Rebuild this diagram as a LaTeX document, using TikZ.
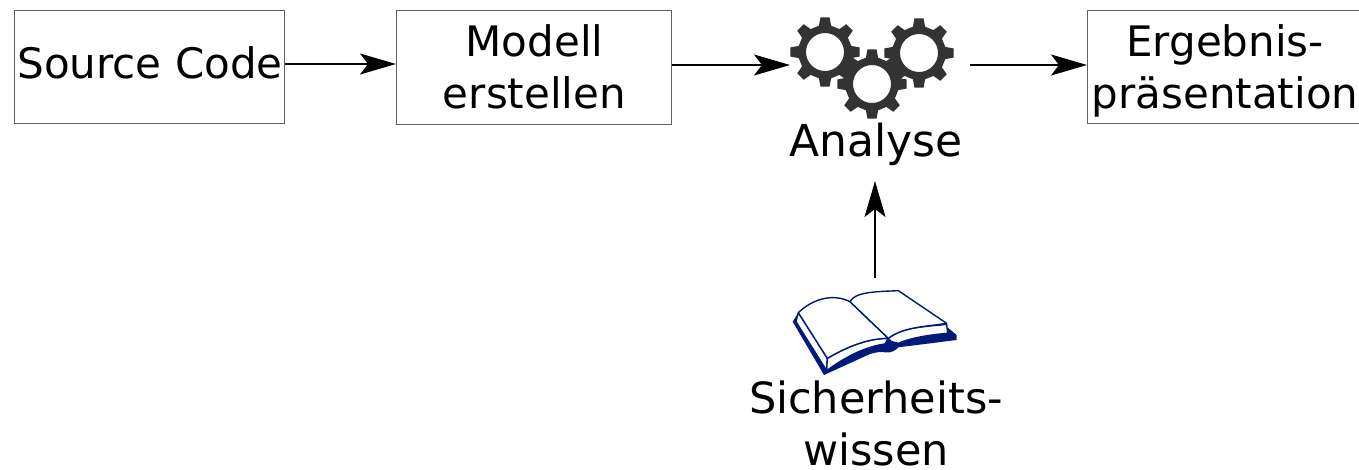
\documentclass[tikz,border=0pt]{standalone}
\usepackage{fontspec}
\setmainfont{DejaVu Sans}
\usetikzlibrary{arrows.meta}
\definecolor{gearcol}{HTML}{333333}
\definecolor{navybook}{HTML}{001A7A}
\definecolor{boxline}{HTML}{606060}
\tikzset{
  box/.style={draw=boxline,line width=1pt,fill=white,inner sep=0pt,anchor=north west},
  lbl/.style={inner sep=0pt,align=center,font=\fontsize{42}{52}\selectfont,anchor=base},
  conn/.style={line width=1.5pt,-{Stealth[length=36pt,width=21pt,inset=8pt]}},
  gearfill/.style={fill=gearcol,even odd rule},
  pageline/.style={draw=navybook,line width=1.4pt,fill=white,line join=round},
}
\newcommand{\gearat}[2]{%
  \begin{scope}[shift={(#1,#2)}]
    \fill[gearfill] (-13:27)
      foreach \a in {0,45,...,315} {
        -- ({\a-13}:27) -- ({\a-7.5}:35) -- ({\a+7.5}:35) -- ({\a+13}:27)
      } -- cycle
      (0,0) circle (19);
  \end{scope}}
\begin{document}
\begin{tikzpicture}[x=1pt,y=-1pt]
\useasboundingbox (0,0) rectangle (1359,469);
\clip (0,0) rectangle (1359,469);
% boxes
\node[box,minimum width=270pt,minimum height=113pt] (src) at (14,10) {};
\node[box,minimum width=275pt,minimum height=114pt] (mod) at (396,10) {};
\node[box,minimum width=274pt,minimum height=113pt] (erg) at (1087,10) {};
\node[lbl] (srct) at (150,78) {Source Code};
\node[lbl] (modt) at (534.5,108) {Modell\\erstellen};
\node[lbl] (ergt) at (1225,108) {Ergebnis-\\präsentation};
% gears
\gearat{825}{52}
\gearat{872}{84}
\gearat{919}{53}
\coordinate (gearin) at (790,65);
\coordinate (gearout) at (970,65);
\coordinate (srcline) at (300,64);
\node[lbl,font=\fontsize{44}{52}\selectfont] (ana) at (876,156) {Analyse};
\coordinate (anabottom) at (875,181);
% book
\begin{scope}[shift={(770,270)},x=0.3333pt,y=-0.3333pt]
  \fill[navybook] (68,155) -- (162,315) -- (300,252) .. controls (325,245) and (335,245) .. (345,247)
    .. controls (365,250) and (378,240) .. (385,232) -- (560,210) -- (560,195) -- (530,170) -- (355,205) -- (85,128) -- cycle;
  \path[pageline] (85,128) -- (172,265) -- (170,302) -- (78,155) -- cycle;
  \path[pageline] (172,265) .. controls (240,225) and (300,205) .. (355,205)
    -- (345,222) .. controls (300,228) and (240,250) .. (170,302) -- cycle;
  \path[pageline] (355,205) .. controls (400,170) and (470,170) .. (530,163)
    -- (533,190) .. controls (470,195) and (420,205) .. (385,220) -- (365,215) -- cycle;
  \path[pageline] (85,128) .. controls (130,85) and (190,70) .. (240,95)
    -- (355,205) .. controls (300,205) and (240,225) .. (172,265) -- cycle;
  \path[pageline] (240,95) .. controls (255,65) and (320,65) .. (385,62)
    -- (530,160) .. controls (470,170) and (400,170) .. (355,205) -- cycle;
\end{scope}
\coordinate (booktop) at (875,278);
\node[lbl,font=\fontsize{43}{52}\selectfont] (sich) at (876,465) {Sicherheits-\\wissen};
% connectors
\draw[conn] (src.east |- srcline) -- (mod.west |- srcline);
\draw[conn] (mod.east |- gearin) -- (gearin);
\draw[conn] (gearout) -- (erg.west |- gearout);
\draw[conn] (booktop) -- (anabottom);
\end{tikzpicture}
\end{document}
